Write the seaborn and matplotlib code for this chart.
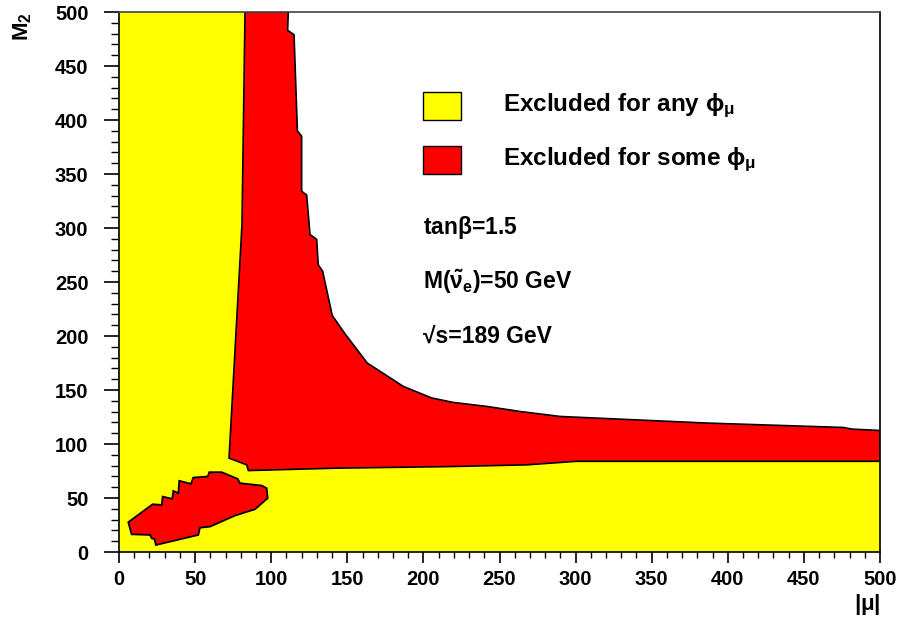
import numpy as np
import matplotlib
matplotlib.use("Agg")
import matplotlib.pyplot as plt
import seaborn as sns
from matplotlib.patches import Rectangle

# ---- data ----
# region excluded for any phi_mu (yellow)
yellow_mu = [0, 500, 500, 300.7, 267.9, 217.5, 141.9, 85.0, 83.9, 72.3, 80.8, 82.8, 0]
yellow_m2 = [0, 0, 84.0, 84.0, 80.7, 79.1, 77.6, 75.4, 80.7, 86.9, 303, 500, 500]

# region excluded for some phi_mu (red band)
red_mu = [82.8, 80.8, 72.3, 83.9, 85.0, 141.9, 217.5, 267.9, 300.7, 500,
          500, 481.4, 475.9, 386.1, 289.8, 263.5, 241.6, 219.6, 205.5, 186.8,
          163.1, 148.5, 140.1, 133.8, 130.9, 129.9, 125.5, 123.3, 120.0, 120.0,
          117.2, 115.0, 110.8, 111.2]
red_m2 = [500, 303, 86.9, 80.7, 75.4, 77.6, 79.1, 80.7, 84.0, 84.0,
          112.5, 113.8, 115.3, 119.4, 125.5, 130.1, 134.8, 138.5, 142.6, 153.3,
          175.0, 202.0, 219.0, 260.0, 266.0, 289.4, 294.0, 330.5, 334.0, 385.0,
          390.0, 479.0, 483.0, 500]

# small red island at low |mu|, M2
island_mu = [6.1, 8.3, 20.4, 21.5, 23.2, 24.3, 52.1, 53.2, 59.8, 76.2, 89.4, 97.7,
             97.0, 93.8, 79.5, 78.0, 67.5, 59.3, 58.3, 48.8, 47.3, 39.6, 39.0,
             35.7, 35.0, 28.7, 28.1, 22.1]
island_m2 = [27.6, 16.4, 15.8, 12.7, 12.1, 6.5, 15.8, 22.5, 23.5, 33.7, 39.6, 49.8,
             59.1, 61.5, 63.7, 67.7, 73.9, 73.9, 69.9, 68.9, 63.1, 65.9, 54.5,
             56.6, 49.2, 51.3, 43.6, 44.2]

legend_labels = [r"Excluded for any $\phi_\mu$", r"Excluded for some $\phi_\mu$"]
notes = [r"tan$\beta$=1.5", r"M($\tilde{\nu}_e$)=50 GeV", "\u221As=189 GeV"]
x_ticks = list(range(0, 501, 50))
y_ticks = list(range(0, 501, 50))

YELLOW = "#ffff00"
RED = "#ff0000"

sns.set_theme(style="ticks")
plt.rcParams["font.family"] = ["Liberation Sans", "DejaVu Sans"]
plt.rcParams["font.weight"] = "bold"
plt.rcParams["text.color"] = "black"
plt.rcParams["axes.labelcolor"] = "black"
plt.rcParams["xtick.color"] = "black"
plt.rcParams["ytick.color"] = "black"
plt.rcParams["mathtext.fontset"] = "custom"
plt.rcParams["mathtext.rm"] = "Liberation Sans:bold"
plt.rcParams["mathtext.it"] = "Liberation Sans:bold"
plt.rcParams["mathtext.bf"] = "Liberation Sans:bold"
plt.rcParams["mathtext.sf"] = "Liberation Sans:bold"

fig = plt.figure(figsize=(9.02, 6.18), dpi=100)
ax = fig.add_axes([119 / 902, 1 - 552 / 618, 761 / 902, 540 / 618])
ax.set_facecolor("white")

ax.fill(yellow_mu, yellow_m2, facecolor=YELLOW, edgecolor="none", zorder=1)
ax.fill(red_mu, red_m2, facecolor=RED, edgecolor="black", linewidth=1.2, zorder=2)
ax.fill(island_mu, island_m2, facecolor=RED, edgecolor="black", linewidth=1.3, zorder=2)

ax.set_xlim(0, 500)
ax.set_ylim(0, 500)
ax.set_xticks(x_ticks)
ax.set_yticks(y_ticks)
ax.set_xticks(np.arange(0, 501, 10), minor=True)
ax.set_yticks(np.arange(0, 501, 10), minor=True)
ax.tick_params(axis="y", which="major", direction="out", length=11, width=1.2,
               labelsize=14.5, pad=11, color="black", labelcolor="black")
ax.tick_params(axis="y", which="minor", direction="out", length=5.5, width=1.0, color="black")
ax.tick_params(axis="x", which="major", direction="out", length=8, width=1.2,
               labelsize=14.5, pad=5, color="black", labelcolor="black")
ax.tick_params(axis="x", which="minor", direction="out", length=4.3, width=1.0, color="black")
for lab in ax.get_xticklabels() + ax.get_yticklabels():
    lab.set_fontweight("bold")

for side in ["left", "bottom", "top", "right"]:
    ax.spines[side].set_visible(True)
    ax.spines[side].set_color("black")
    ax.spines[side].set_linewidth(1.2)
ax.spines["top"].set_color("#444444")

ax.set_xlabel(r"|$\mu$|", loc="right", fontsize=16, fontweight="bold")
ax.xaxis.set_label_coords(1.0, -0.074)
ax.set_ylabel(r"M$_2$", loc="top", fontsize=16, fontweight="bold")
ax.yaxis.set_label_coords(-0.112, 1.0)

# legend boxes and texts
for (yb, col, lab) in [(0.7996, YELLOW, legend_labels[0]), (0.6994, RED, legend_labels[1])]:
    ax.add_patch(Rectangle((0.3995, yb), 0.0499, 0.052, transform=ax.transAxes,
                           facecolor=col, edgecolor="black", linewidth=1.0, zorder=5))
    ax.text(0.5046, yb + 0.026, lab, transform=ax.transAxes, fontsize=17.5,
            fontweight="bold", va="center", ha="left", zorder=5)

for y, t in zip([0.601, 0.501, 0.399], notes):
    ax.text(0.3995, y, t, transform=ax.transAxes, fontsize=16.5, fontweight="bold",
            va="center", ha="left", zorder=5)

fig.savefig("out.png", dpi=100)
